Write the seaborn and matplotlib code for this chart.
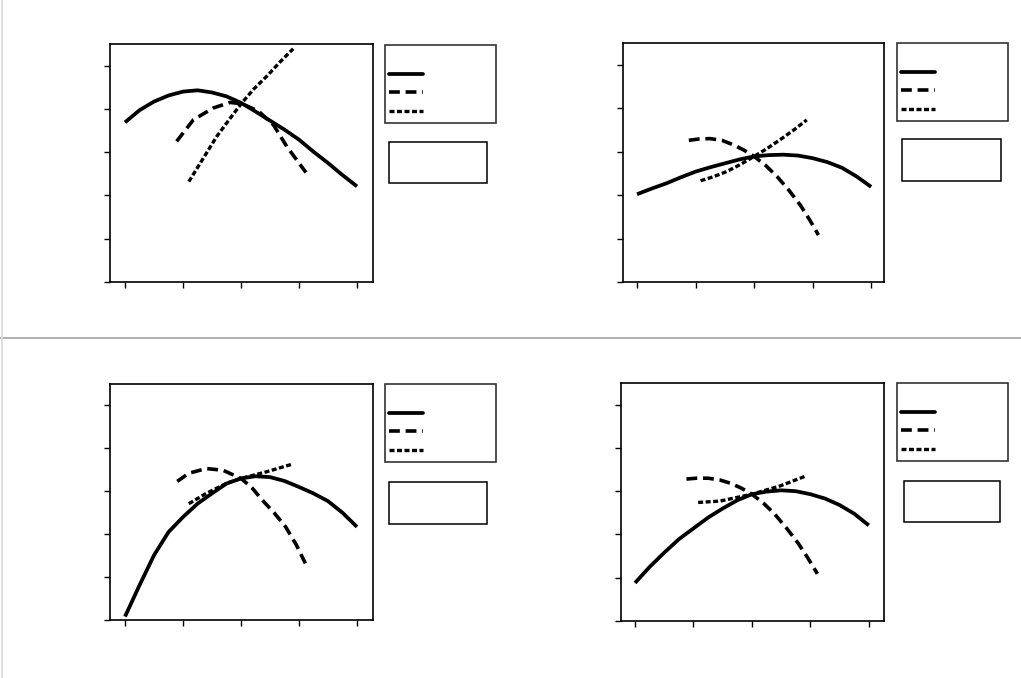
import matplotlib
matplotlib.use("Agg")
import matplotlib.pyplot as plt
from matplotlib.patches import Rectangle
from matplotlib.lines import Line2D
import seaborn as sns

sns.set_theme(style="white")
plt.rcParams["font.family"] = ["DejaVu Sans"]

# ---- data -------------------------------------------------------------
x_ticks = [0, 1, 2, 3, 4]
y_ticks = [0, 1, 2, 3, 4, 5]
series_names = ["Series 1", "Series 2", "Series 3"]

x_solid = [0, 0.25, 0.5, 0.75, 1.0, 1.25, 1.5, 1.75, 2.0,
           2.25, 2.5, 2.75, 3.0, 3.25, 3.5, 3.75, 4.0]

# panel A
a_solid = [3.69, 3.97, 4.17, 4.31, 4.40, 4.43, 4.38, 4.29, 4.14,
           3.94, 3.73, 3.52, 3.29, 3.01, 2.75, 2.47, 2.21]
a_dash_x = [0.89, 1.18, 1.52, 1.81, 2.01, 2.30, 2.56, 2.79, 3.12]
a_dash_y = [3.25, 3.75, 4.02, 4.15, 4.12, 3.95, 3.63, 3.13, 2.53]
a_dot_x = [1.10, 1.35, 1.58, 1.80, 2.01, 2.22, 2.44, 2.67, 2.90]
a_dot_y = [2.32, 2.86, 3.36, 3.76, 4.13, 4.46, 4.75, 5.08, 5.39]

# panel B
b_solid = [2.02, 2.15, 2.27, 2.41, 2.54, 2.64, 2.73, 2.82, 2.89,
           2.92, 2.93, 2.91, 2.85, 2.76, 2.63, 2.43, 2.19]
b_dash_x = [0.885, 1.05, 1.245, 1.45, 1.64, 1.82, 2.0, 2.20, 2.39, 2.59, 2.79, 2.95, 3.10]
b_dash_y = [3.26, 3.29, 3.30, 3.26, 3.16, 3.04, 2.89, 2.68, 2.43, 2.12, 1.77, 1.43, 1.08]
b_dot_x = [1.085, 1.30, 1.53, 1.76, 2.0, 2.22, 2.44, 2.67, 2.90]
b_dot_y = [2.33, 2.42, 2.54, 2.70, 2.89, 3.07, 3.27, 3.49, 3.73]

# panel C
c_solid = [0.08, 0.81, 1.51, 2.05, 2.40, 2.71, 2.95, 3.18, 3.30,
           3.35, 3.33, 3.24, 3.10, 2.95, 2.77, 2.50, 2.17]
c_dash_x = [0.90, 1.10, 1.40, 1.69, 2.0, 2.19, 2.37, 2.57, 2.77, 2.95, 3.11]
c_dash_y = [3.23, 3.42, 3.53, 3.49, 3.30, 3.08, 2.79, 2.50, 2.17, 1.76, 1.32]
c_dot_x = [1.10, 1.40, 1.74, 2.0, 2.43, 2.88]
c_dot_y = [2.71, 2.95, 3.18, 3.30, 3.45, 3.63]

# panel D
d_solid = [0.88, 1.25, 1.58, 1.89, 2.14, 2.39, 2.60, 2.79, 2.93,
           2.99, 3.02, 3.00, 2.93, 2.83, 2.68, 2.48, 2.21]
d_dash_x = [0.88, 1.05, 1.25, 1.45, 1.64, 1.82, 2.0, 2.20, 2.39, 2.59, 2.79, 2.96, 3.12]
d_dash_y = [3.28, 3.30, 3.30, 3.26, 3.18, 3.07, 2.93, 2.72, 2.47, 2.15, 1.80, 1.45, 1.09]
d_dot_x = [1.08, 1.45, 2.0, 2.48, 2.92]
d_dot_y = [2.74, 2.77, 2.93, 3.12, 3.35]

panels = [
    (a_solid, a_dash_x, a_dash_y, a_dot_x, a_dot_y),
    (b_solid, b_dash_x, b_dash_y, b_dot_x, b_dot_y),
    (c_solid, c_dash_x, c_dash_y, c_dot_x, c_dot_y),
    (d_solid, d_dash_x, d_dash_y, d_dot_x, d_dot_y),
]

# ---- layout (pixels, origin top-left) ---------------------------------
W, H = 1021, 678
axes_px = [  # left, right, top, bottom, x-limits
    (110, 373, 44, 282, (-0.259, 4.276)),
    (623, 884, 43, 282, (-0.24, 4.22)),
    (110, 373, 384, 620, (-0.259, 4.276)),
    (621, 884, 383, 621, (-0.24, 4.26)),
]
legend_px = [(385, 45, 111), (897, 43, 111), (385, 384, 111), (897, 383, 111)]
box_px = [(389, 142, 98, 41), (902, 139, 99, 42), (389, 482, 98, 42), (904, 481, 96, 41)]

SOLID_LW = 2.7
DASH_LW = 2.6
DOT_LW = 2.4
LONG_DASH = (0, (3.0, 1.6))
SHORT_DASH = (0, (1.5, 0.75))

fig = plt.figure(figsize=(W / 100, H / 100), dpi=100)
fig.patch.set_facecolor("white")


def fx(px):
    return px / W


def fy(py):
    return 1 - py / H


for (solid, dx, dy, ox, oy), (l, r, t, b, xl), (lx, ly, lw), (bx, by, bw, bh) in zip(
        panels, axes_px, legend_px, box_px):
    ax = fig.add_axes([fx(l), fy(b), (r - l) / W, (b - t) / H])
    sns.lineplot(x=x_solid, y=solid, ax=ax, color="black", linewidth=SOLID_LW,
                 solid_capstyle="butt", solid_joinstyle="round", label=series_names[0])
    sns.lineplot(x=dx, y=dy, ax=ax, color="black", linewidth=DASH_LW,
                 linestyle=LONG_DASH, dash_capstyle="butt", label=series_names[1])
    sns.lineplot(x=ox, y=oy, ax=ax, color="black", linewidth=DOT_LW,
                 linestyle=SHORT_DASH, dash_capstyle="butt", label=series_names[2])
    ax.set_xlim(*xl)
    ax.set_ylim(0, 5.5)
    ax.set_xticks(x_ticks)
    ax.set_yticks(y_ticks)
    ax.tick_params(axis="both", direction="out", length=4, width=1.0,
                   colors="black", labelcolor="white", labelsize=9,
                   bottom=True, left=True)
    for sp in ax.spines.values():
        sp.set_color("black")
        sp.set_linewidth(1.2)
        sp.set_visible(True)
    ax.set_xlabel("")
    ax.set_ylabel("")

    handles = [
        Line2D([], [], color="black", linewidth=SOLID_LW),
        Line2D([], [], color="black", linewidth=DASH_LW, linestyle=LONG_DASH),
        Line2D([], [], color="black", linewidth=DOT_LW, linestyle=SHORT_DASH),
    ]
    leg = ax.legend(handles, series_names, loc="upper left",
                    bbox_to_anchor=(fx(lx), fy(ly), lw / W, 0.0),
                    bbox_transform=fig.transFigure, mode="expand",
                    borderaxespad=0, frameon=True, fancybox=False,
                    edgecolor="black", fontsize=10, handlelength=2.4,
                    labelspacing=0.32, borderpad=0.3, handletextpad=0.6,
                    title=" ", title_fontsize=10)
    leg.get_frame().set_linewidth(1.2)
    for txt in leg.get_texts():
        txt.set_color("white")

    fig.add_artist(Rectangle((fx(bx), fy(by + bh)), bw / W, bh / H,
                             transform=fig.transFigure, fill=False,
                             edgecolor="black", linewidth=1.1))

# light separators between the chart cells
fig.add_artist(Line2D([0, 1], [fy(338), fy(338)], transform=fig.transFigure,
                      color="#a8a8a8", linewidth=1.3))
fig.add_artist(Line2D([fx(1.5), fx(1.5)], [0, 1], transform=fig.transFigure,
                      color="#dcdcdc", linewidth=1.3))

fig.savefig("out.png", dpi=100, facecolor="white")
